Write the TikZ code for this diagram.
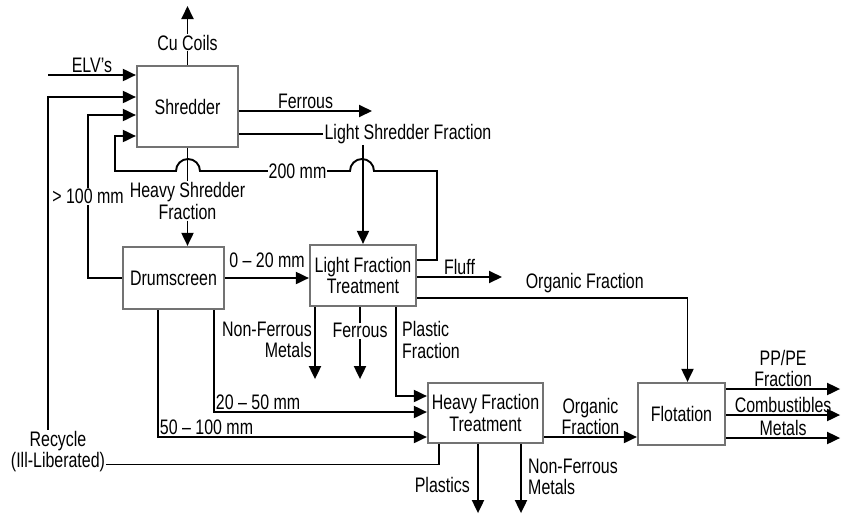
\documentclass[tikz,border=0pt]{standalone}
\usepackage{fontspec}
\setmainfont[FakeStretch=0.76]{Liberation Sans}
\usetikzlibrary{arrows.meta}
\begin{document}
\begin{tikzpicture}[x=1pt,y=-1pt,
  font=\fontsize{21}{21.5}\selectfont,
  unit/.style={draw=black!55,line width=2.2pt,fill=white,align=center,inner sep=0pt},
  lbl/.style={inner sep=1pt,align=center},
  flow/.style={line width=1.9pt},
  arr/.style={flow,-{Triangle[length=13pt,width=12pt]}},
  hop/.style={fill=white,inner sep=1pt}]
\useasboundingbox (0,0) rectangle (850,520);

% process units
\node[unit,minimum width=101pt,minimum height=81pt] (shredder) at (187.5,106.5) {Shredder};
\node[unit,minimum width=101pt,minimum height=62pt] (drum) at (173.5,278) {Drumscreen};
\node[unit,minimum width=106pt,minimum height=61pt] (lft) at (363,275.5) {Light Fraction\\Treatment};
\node[unit,minimum width=115pt,minimum height=60pt] (hft) at (485.5,413) {Heavy Fraction\\Treatment};
\node[unit,minimum width=87pt,minimum height=62pt] (flot) at (681.5,414) {Flotation};

% stream labels standing on their own
\node[lbl] (lsf) at (408,134) {Light Shredder Fraction};
\node[lbl] (hsf) at (187.5,201) {Heavy Shredder\\Fraction};
\node[lbl] (recycle) at (58,451.5) {Recycle\\(Ill-Liberated)};
\node[lbl,anchor=east,align=right] (nfm1) at (313,340) {Non-Ferrous\\Metals};
\node[lbl,anchor=west,align=left] (plf) at (401,340) {Plastic\\Fraction};
\node[lbl,anchor=east] (pls) at (471,485) {Plastics};
\node[lbl,anchor=west,align=left] (nfm2) at (527,477) {Non-Ferrous\\Metals};

\coordinate (cu) at (187.5,6);
\coordinate (elv) at (48,75);
\coordinate (fe) at (372,111);
\coordinate (fluff) at (502,277);
\coordinate (c100) at (88,115);
\coordinate (c200) at (437,171);
\coordinate (hfto) at ([yshift=-24pt]hft.east);

% shredder
\draw[arr] (shredder.north) -- node[hop,pos=0.38]{Cu Coils} (cu);
\draw[arr] (elv) -- (elv -| shredder.west) node[midway,above,lbl]{ELV's};
\draw[arr] (shredder.east |- fe) -- (fe) node[midway,above,lbl]{Ferrous};
\draw[flow] (shredder.east |- lsf.west) -- (lsf.west);
\draw[arr] (lsf.south -| lft.north) -- (lft.north);
\draw[flow] (shredder.south) -- (hsf.north);
\draw[arr] (hsf.south) -- (hsf.south |- drum.north);

% 200 mm return
\draw[arr] ([yshift=15.5pt]lft.east) -| (c200) -- (374,171)
  arc[start angle=0,end angle=180,radius=12pt]
  -- node[hop,pos=0.35]{200 mm} (200,171)
  arc[start angle=0,end angle=180,radius=12pt]
  -- (115,171) |- ([yshift=-29.5pt]shredder.west);

% drumscreen
\draw[arr] (drum.west) -| node[hop,pos=0.75]{\textgreater{} 100 mm} (c100) -- (c100 -| shredder.west);
\draw[arr] (drum.east) -- (drum.east -| lft.west) node[midway,above=8pt,lbl]{0 -- 20 mm};
\draw[arr] ([xshift=40.5pt]drum.south) |- node[pos=0.5,above right,lbl]{20 -- 50 mm} ([yshift=1pt]hft.west);
\draw[arr] ([xshift=-15.5pt]drum.south) |- node[pos=0.5,above right,lbl]{50 -- 100 mm} ([yshift=-24pt]hft.west);

% light fraction
\draw[arr] (lft.east |- fluff) -- (fluff) node[midway,above,lbl]{Fluff};
\draw[arr] ([yshift=-22.5pt]lft.east) -| node[pos=0.31,above=3pt,lbl]{Organic Fraction} ([xshift=6pt]flot.north);
\draw[arr] ([xshift=-48pt]lft.south) -- ++(0,72);
\draw[arr] ([xshift=-3pt]lft.south) -- node[hop,pos=0.33]{Ferrous} ++(0,72);
\draw[arr] ([xshift=33pt]lft.south) |- ([yshift=17pt]hft.west);

% heavy fraction
\draw[arr] ([xshift=-7.5pt]hft.south) -- ++(0,69);
\draw[arr] ([xshift=35.5pt]hft.south) -- ++(0,69);
\draw[flow] ([xshift=12pt]hft.south west) |- ([yshift=-13pt]recycle.east);
\draw[arr] ([xshift=-10pt]recycle.north) |- ([yshift=9.5pt]shredder.west);
\draw[arr] (hfto) -- (hfto -| flot.west) node[midway,above,lbl]{Organic\\Fraction};

% flotation
\draw[arr] ([yshift=25pt]flot.east) -- ++(114,0) node[midway,above,lbl]{PP/PE\\Fraction};
\draw[arr] ([yshift=-1pt]flot.east) -- ++(114,0) node[midway,above,lbl]{Combustibles};
\draw[arr] ([yshift=-24pt]flot.east) -- ++(114,0) node[midway,above,lbl]{Metals};
\end{tikzpicture}
\end{document}
